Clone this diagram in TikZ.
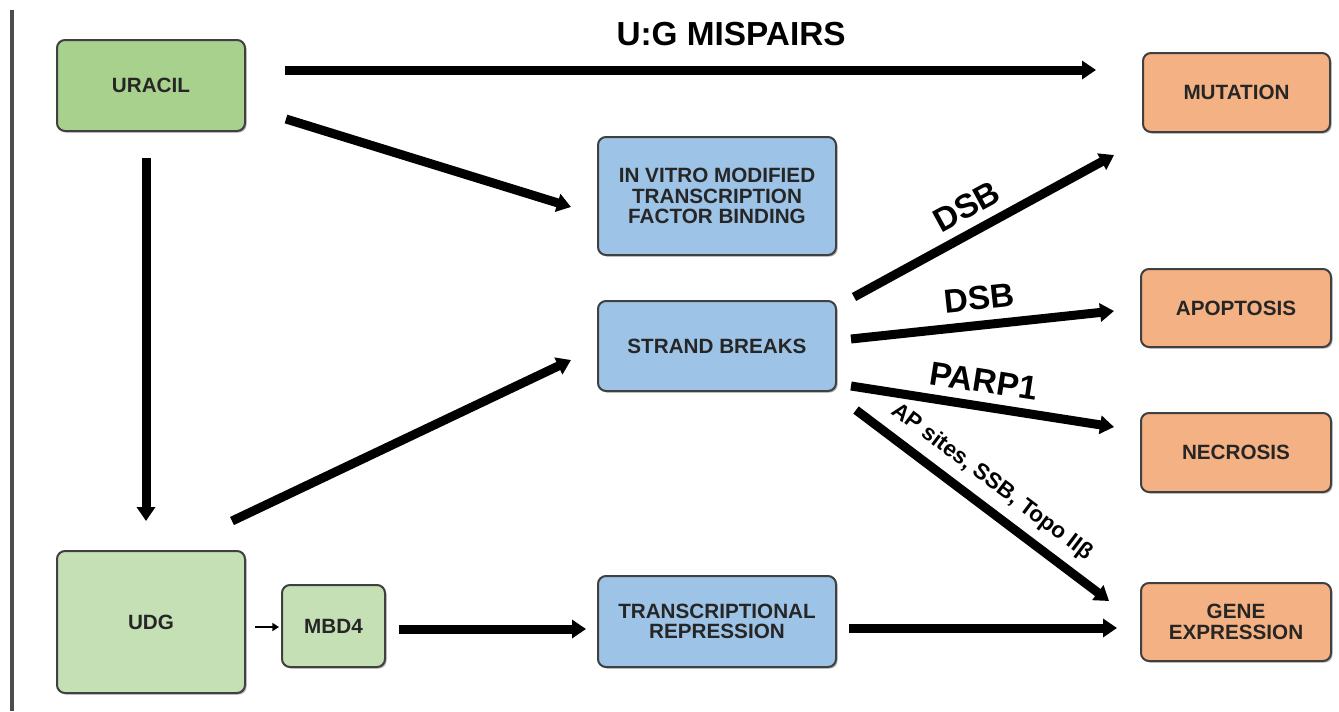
\documentclass[tikz,border=0pt]{standalone}
\usepackage{fontspec}
\setmainfont{Liberation Sans}
\usetikzlibrary{arrows.meta,shadows}
\definecolor{gA}{HTML}{A9D18E}
\definecolor{gB}{HTML}{C5E0B4}
\definecolor{bA}{HTML}{9DC3E6}
\definecolor{oA}{HTML}{F4B183}
\definecolor{edge}{HTML}{404040}
\newdimen\pxu
\pxu=0.75pt
\begin{document}
\begin{tikzpicture}[x=0.75pt,y=-0.75pt,
  box/.style={draw=edge, line width=1.5pt, rounded corners=6pt, inner sep=0pt,
    align=center, text=black!85,
    font=\fontsize{15.5pt}{15.5pt}\selectfont\bfseries,
    drop shadow={shadow xshift=1.2pt, shadow yshift=-1.2pt, opacity=0.3, fill=black}},
  arr/.style={line width=6.75pt, -{Triangle[width=13.5pt,length=10.5pt]}},
  lbl/.style={font=\fontsize{25pt}{25pt}\selectfont\bfseries, inner sep=0pt, sloped},
  slbl/.style={font=\fontsize{16.8pt}{16.8pt}\selectfont\bfseries, inner sep=0pt, sloped}]
\useasboundingbox (0,0) rectangle (1339,711);
\fill[white] (0,0) rectangle (1339,711);
\draw[line width=3pt, black!70] (12,10) -- (12,711);

% nodes
\node[box, fill=gA, minimum width=188\pxu, minimum height=91\pxu] (uracil) at (151,85.5) {URACIL};
\node[box, fill=gB, minimum width=188\pxu, minimum height=142\pxu] (udg) at (151,622) {UDG};
\node[box, fill=gB, minimum width=103\pxu, minimum height=82\pxu] (mbd4) at (333.5,626) {MBD4};
\node[box, fill=bA, minimum width=238\pxu, minimum height=118\pxu] (invitro) at (717,196) {IN VITRO MODIFIED\\TRANSCRIPTION\\FACTOR BINDING};
\node[box, fill=bA, minimum width=238\pxu, minimum height=90\pxu] (strand) at (717,346) {STRAND BREAKS};
\node[box, fill=bA, minimum width=238\pxu, minimum height=91\pxu] (trans) at (717,621.5) {TRANSCRIPTIONAL\\REPRESSION};
\node[box, fill=oA, minimum width=187\pxu, minimum height=79\pxu] (mutation) at (1236.5,92.5) {MUTATION};
\node[box, fill=oA, minimum width=190\pxu, minimum height=78\pxu] (apoptosis) at (1236,308) {APOPTOSIS};
\node[box, fill=oA, minimum width=190\pxu, minimum height=79\pxu] (necrosis) at (1236,452.5) {NECROSIS};
\node[box, fill=oA, minimum width=190\pxu, minimum height=78\pxu] (gene) at (1236,622) {GENE\\EXPRESSION};

% connectors
\draw[arr] ([shift={(39,-15.5)}]uracil.east) -- node[lbl, pos=0.55, above=15pt]{U:G MISPAIRS} ([shift={(-46,-22.5)}]mutation.west);
\draw[arr] ([shift={(40,33.5)}]uracil.east) -- ([shift={(-26,11)}]invitro.west);
\draw[arr] ([shift={(-5,26)}]uracil.south) -- ([shift={(-5,-29)}]udg.north);
\draw[arr] ([shift={(-14,-29)}]udg.north east) -- ([shift={(-26,14)}]strand.west);
\draw[line width=1.5pt, -{Triangle[width=6pt,length=5pt]}] ([shift={(9,5)}]udg.east) -- ([shift={(-2,1)}]mbd4.west);
\draw[arr] ([shift={(13,3)}]mbd4.east) -- ([shift={(-11,7.5)}]trans.west);
\draw[arr] ([shift={(12,6.5)}]trans.east) -- ([shift={(-23,6)}]gene.west);
\draw[arr] ([shift={(17,-49)}]strand.east) -- node[lbl, pos=0.48, above=7pt]{DSB} ([shift={(-28,62.5)}]mutation.west);
\draw[arr] ([shift={(14,-7)}]strand.east) -- node[lbl, pos=0.5, above=8pt]{DSB} ([shift={(-26,3)}]apoptosis.west);
\draw[arr] ([shift={(14,40)}]strand.east) -- node[lbl, pos=0.49, above=7pt]{PARP1} ([shift={(-26,-25.5)}]necrosis.west);
\draw[arr] ([shift={(19,64)}]strand.east) -- node[slbl, pos=0.48, above=7pt]{AP sites, SSB, Topo IIβ} ([shift={(-31,-21)}]gene.west);
\end{tikzpicture}
\end{document}
